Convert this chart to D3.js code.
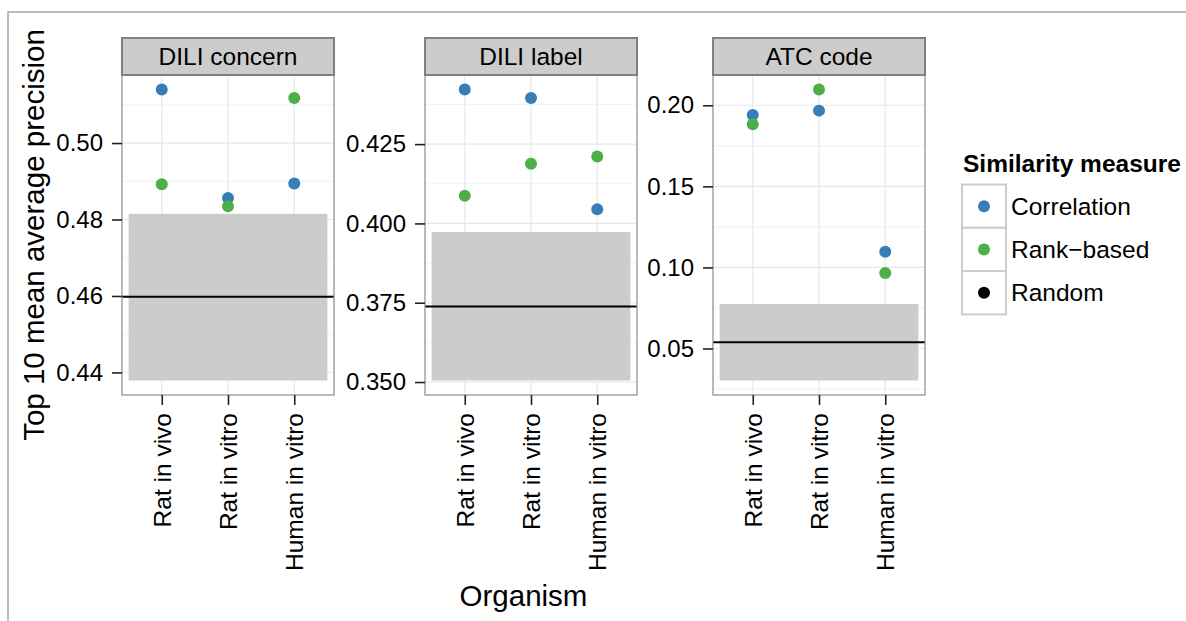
<!DOCTYPE html>
<html>
<head>
<meta charset="utf-8">
<script src="https://cdn.jsdelivr.net/npm/d3@7"></script>
<style>
body { margin: 0; background: #fff; }
svg text { font-family: "Liberation Sans", Arial, Helvetica, sans-serif; }
</style>
</head>
<body>
<svg id="chart" width="1186" height="621"></svg>
<script>
// data
const organisms = ["Rat in vivo", "Rat in vitro", "Human in vitro"];
const facets = ["DILI concern", "DILI label", "ATC code"];
const correlation = [
  [0.5140, 0.4856, 0.4894],
  [0.4422, 0.4395, 0.4045],
  [0.1940, 0.1967, 0.1097]
];
const rankBased = [
  [0.4892, 0.4835, 0.5118],
  [0.4087, 0.4188, 0.4211],
  [0.1883, 0.2097, 0.0966]
];
const randomMean = [0.4598, 0.3738, 0.0539];
const randomLow = [0.4379, 0.3505, 0.0303];
const randomHigh = [0.4815, 0.3973, 0.0775];
const yTicks = [
  [0.44, 0.46, 0.48, 0.50],
  [0.350, 0.375, 0.400, 0.425],
  [0.05, 0.10, 0.15, 0.20]
];
const yFormats = [".2f", ".3f", ".2f"];
const legendLabels = ["Correlation", "Rank\u2212based", "Random"];
const legendColors = ["#377eb8", "#4daf4a", "#000000"];

const svg = d3.select("#chart");

const panelLeft = [122, 425, 713];
const panelW = 212;
const panelTop = 75;
const panelBottom = 395;
const stripTop = 38;

// outer frame
svg.append("path")
  .attr("d", "M8,621V12H1186")
  .attr("fill", "none")
  .attr("stroke", "#a6a6a6")
  .attr("stroke-width", 1.5);

facets.forEach((name, i) => {
  const vals = correlation[i].concat(rankBased[i], [randomLow[i], randomHigh[i]]);
  const ext = d3.extent(vals);
  const pad = (ext[1] - ext[0]) * 0.05;
  const y = d3.scaleLinear().domain([ext[0] - pad, ext[1] + pad]).range([panelBottom, panelTop]);
  const x = d3.scalePoint().domain(organisms).range([0, panelW]).padding(0.6);
  const step = x.step();

  const g = svg.append("g").attr("transform", `translate(${panelLeft[i]},0)`);

  g.append("rect")
    .attr("x", 0).attr("y", panelTop)
    .attr("width", panelW).attr("height", panelBottom - panelTop)
    .attr("fill", "#fff");

  // minor grid, halfway between the major breaks
  const t = yTicks[i];
  const half = (t[1] - t[0]) / 2;
  const minor = [t[0] - half].concat(t.map(v => v + half))
    .filter(v => v >= y.domain()[0] && v <= y.domain()[1]);
  g.selectAll("line.minor").data(minor).enter().append("line")
    .attr("class", "minor")
    .attr("x1", 0).attr("x2", panelW)
    .attr("y1", d => y(d)).attr("y2", d => y(d))
    .attr("stroke", "#f3f3f3").attr("stroke-width", 1.2);

  g.selectAll("line.majory").data(t).enter().append("line")
    .attr("class", "majory")
    .attr("x1", 0).attr("x2", panelW)
    .attr("y1", d => y(d)).attr("y2", d => y(d))
    .attr("stroke", "#e8e8e8").attr("stroke-width", 1.2);

  g.selectAll("line.majorx").data(organisms).enter().append("line")
    .attr("class", "majorx")
    .attr("x1", d => x(d)).attr("x2", d => x(d))
    .attr("y1", panelTop).attr("y2", panelBottom)
    .attr("stroke", "#e8e8e8").attr("stroke-width", 1.2);

  // random band and mean
  g.append("rect")
    .attr("x", x(organisms[0]) - step / 2)
    .attr("width", x(organisms[organisms.length - 1]) - x(organisms[0]) + step)
    .attr("y", y(randomHigh[i]))
    .attr("height", y(randomLow[i]) - y(randomHigh[i]))
    .attr("fill", "#cccccc");

  g.append("line")
    .attr("x1", 0).attr("x2", panelW)
    .attr("y1", y(randomMean[i])).attr("y2", y(randomMean[i]))
    .attr("stroke", "#000").attr("stroke-width", 2);

  g.selectAll("circle.corr").data(correlation[i]).enter().append("circle")
    .attr("class", "corr")
    .attr("cx", (d, j) => x(organisms[j]))
    .attr("cy", d => y(d))
    .attr("r", 6)
    .attr("fill", legendColors[0]);

  g.selectAll("circle.rank").data(rankBased[i]).enter().append("circle")
    .attr("class", "rank")
    .attr("cx", (d, j) => x(organisms[j]))
    .attr("cy", d => y(d))
    .attr("r", 6)
    .attr("fill", legendColors[1]);

  g.append("rect")
    .attr("x", 0).attr("y", panelTop)
    .attr("width", panelW).attr("height", panelBottom - panelTop)
    .attr("fill", "none")
    .attr("stroke", "#8c8c8c").attr("stroke-width", 1.2);

  // strip
  g.append("rect")
    .attr("x", 0).attr("y", stripTop)
    .attr("width", panelW).attr("height", panelTop - stripTop)
    .attr("fill", "#cccccc")
    .attr("stroke", "#808080").attr("stroke-width", 2);
  g.append("text")
    .attr("x", panelW / 2).attr("y", (stripTop + panelTop) / 2)
    .attr("dy", "0.35em")
    .attr("text-anchor", "middle")
    .attr("font-size", 24.5)
    .text(name);

  // axes
  const yAxis = g.append("g")
    .call(d3.axisLeft(y).tickValues(t).tickFormat(d3.format(yFormats[i])).tickSize(10).tickPadding(9));
  yAxis.select(".domain").remove();
  yAxis.attr("font-size", 24).attr("font-family", null);
  yAxis.selectAll("line").attr("stroke", "#222").attr("stroke-width", 1.6);
  yAxis.selectAll("text").attr("fill", "#000");

  const xAxis = g.append("g")
    .attr("transform", `translate(0,${panelBottom})`)
    .call(d3.axisBottom(x).tickSize(10));
  xAxis.select(".domain").remove();
  xAxis.attr("font-size", 24.5).attr("font-family", null);
  xAxis.selectAll("line").attr("stroke", "#222").attr("stroke-width", 1.6);
  xAxis.selectAll("text")
    .attr("fill", "#000")
    .attr("y", 0)
    .attr("x", -18)
    .attr("dy", "0.35em")
    .attr("transform", "rotate(-90)")
    .style("text-anchor", "end");
});

// axis titles
svg.append("text")
  .attr("transform", `translate(44,${(panelTop + panelBottom) / 2}) rotate(-90)`)
  .attr("text-anchor", "middle")
  .attr("font-size", 29.5)
  .text("Top 10 mean average precision");

svg.append("text")
  .attr("x", (panelLeft[0] + panelLeft[2] + panelW) / 2)
  .attr("y", 606)
  .attr("text-anchor", "middle")
  .attr("font-size", 29.5)
  .text("Organism");

// legend
const legend = svg.append("g").attr("transform", "translate(962,0)");
legend.append("text")
  .attr("x", 1).attr("y", 172)
  .attr("font-size", 24.5)
  .attr("font-weight", "bold")
  .text("Similarity measure");

const keyH = 43.3;
const keys = legend.selectAll("g.key").data(legendLabels).enter().append("g")
  .attr("class", "key")
  .attr("transform", (d, k) => `translate(0,${184.5 + k * keyH})`);
keys.append("rect")
  .attr("width", 44).attr("height", keyH)
  .attr("fill", "#fff")
  .attr("stroke", "#cccccc").attr("stroke-width", 2);
keys.append("circle")
  .attr("cx", 22).attr("cy", keyH / 2)
  .attr("r", 6)
  .attr("fill", (d, k) => legendColors[k]);
keys.append("text")
  .attr("x", 49).attr("y", keyH / 2)
  .attr("dy", "0.35em")
  .attr("font-size", 24.5)
  .text(d => d);
</script>
</body>
</html>
